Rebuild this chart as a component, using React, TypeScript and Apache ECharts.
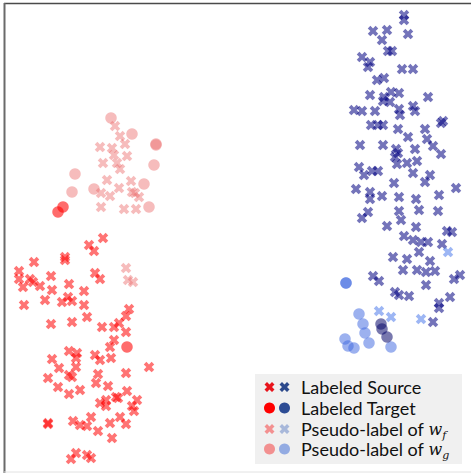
import React, { useEffect, useRef } from "react";
import * as echarts from "echarts";

// t-SNE embedding coordinates
const srcRed: number[][] = [
  [103,238],[89,245],[94,251],[65,257],[65,260],[34,262],[19,271],[19,279],[30,279],[33,282],[40,286],[51,276],[69,284],[23,287],[52,290],[84,291],[95,273],[100,279],[45,300],[62,302],[68,297],[72,301],[84,305],[24,305],[87,317],[72,322],[51,324],[102,327],[129,309],[126,316],[119,323],[114,327],[126,332],[114,340],[110,347],[52,359],[69,351],[77,353],[76,358],[95,355],[100,360],[111,358],[59,368],[149,367],[48,378],[69,375],[72,377],[76,367],[98,374],[126,373],[96,383],[58,387],[80,390],[69,394],[108,386],[127,391],[116,397],[118,398],[100,403],[106,400],[106,406],[137,400],[132,406],[134,411],[48,423],[48,424],[73,421],[80,425],[87,426],[91,417],[110,423],[120,417],[126,424],[98,431],[112,438],[76,453],[71,459],[87,455],[91,458]
];
const srcBlue: number[][] = [
  [404,15],[404,20],[373,31],[387,30],[382,40],[408,34],[388,51],[392,51],[362,57],[370,62],[368,67],[402,69],[413,69],[377,80],[384,78],[370,95],[384,97],[383,101],[390,102],[391,92],[399,93],[428,97],[354,110],[362,111],[375,111],[399,109],[400,115],[413,106],[415,111],[441,123],[443,121],[371,125],[378,125],[383,125],[398,129],[408,137],[425,129],[427,139],[433,146],[441,154],[360,145],[383,145],[396,149],[398,153],[395,157],[397,164],[415,149],[407,163],[417,161],[359,167],[364,175],[372,171],[378,171],[413,173],[430,175],[425,182],[394,183],[356,189],[370,192],[370,199],[382,196],[399,197],[416,199],[439,195],[456,188],[399,211],[419,210],[438,211],[368,212],[362,218],[401,220],[387,226],[416,227],[447,231],[452,232],[404,236],[413,240],[421,242],[428,242],[442,244],[419,252],[393,257],[407,259],[430,261],[403,270],[417,270],[426,272],[435,271],[460,275],[454,279],[373,276],[379,281],[426,285],[395,292],[399,295],[409,296],[450,297],[439,303],[439,308],[433,322]
];
const tgtRed: number[][] = [[63,207],[58,212],[127,347]];
const tgtBlue: number[][] = [[381,324],[382,329],[387,337]];
const wfRed: number[][] = [
  [115,126],[120,136],[125,144],[100,147],[112,148],[114,155],[127,156],[103,163],[117,163],[120,169],[107,180],[131,181],[119,188],[101,193],[110,196],[132,192],[135,193],[139,197],[101,207],[124,209],[136,209],[126,268],[128,280],[133,282]
];
const wfBlue: number[][] = [[448,252],[379,311],[391,317],[421,319]];
const wgRed: number[][] = [[111,118],[132,134],[156,144],[156,145],[154,165],[75,174],[72,192],[94,189],[144,184],[149,207]];
const wgBlue: number[][] = [[346,283],[346,283],[359,314],[363,324],[365,333],[369,343],[345,339],[348,346],[354,348],[391,347]];

const legendLabels = ["Labeled Source", "Labeled Target", "Pseudo-label of", "Pseudo-label of"];
const legendSubs = ["", "", "f", "g"];

const X_PATH = "path://M2.5,0 L5,2.5 L7.5,0 L10,2.5 L7.5,5 L10,7.5 L7.5,10 L5,7.5 L2.5,10 L0,7.5 L2.5,5 L0,2.5 Z";
const FONT = "Lato";
const FS = 18;

export default function App() {
  const ref = useRef<HTMLDivElement>(null);
  useEffect(() => {
    if (!ref.current) return;
    const chart = echarts.init(ref.current, undefined, { renderer: "svg" });
    const mk = (name: string, data: number[][], symbol: string, size: number, color: string, z: number) => ({
      name, type: "scatter", data, symbol, symbolSize: size, z,
      itemStyle: { color }, silent: true,
    });
    const lx = 301;
    const rowsY = [387, 408, 429, 449];
    const graphics: any[] = [
      { type: "line", shape: { x1: 4, y1: 3.5, x2: 471, y2: 3.5 }, style: { stroke: "#4a4a4a", lineWidth: 1.6 }, z: 10 },
      { type: "line", shape: { x1: 4.5, y1: 3, x2: 4.5, y2: 473 }, style: { stroke: "#6a6a6a", lineWidth: 2 }, z: 10 },
      { type: "line", shape: { x1: 4, y1: 472, x2: 471, y2: 472 }, style: { stroke: "#e2e2e2", lineWidth: 1 }, z: 10 },
      { type: "rect", shape: { x: 255, y: 374, width: 207, height: 90 }, style: { fill: "#f0f0f0" }, z: 20 },
    ];
    const legendSym = [
      ["x", "#e8141c", "#2d4a8c"],
      ["c", "#ff0000", "#2d4c94"],
      ["x", "#f39090", "#a8b8da"],
      ["c", "#f29090", "#93abe2"],
    ];
    rowsY.forEach((y, i) => {
      const [kind, cr, cb] = legendSym[i];
      [[269.5, cr], [284.5, cb]].forEach(([x, col]) => {
        if (kind === "x") {
          graphics.push({
            type: "polygon", z: 21,
            shape: { points: [[2.5,0],[5,2.5],[7.5,0],[10,2.5],[7.5,5],[10,7.5],[7.5,10],[5,7.5],[2.5,10],[0,7.5],[2.5,5],[0,2.5]].map(p => [(x as number) - 5 + p[0], y - 5 + p[1]]) },
            style: { fill: col as string },
          });
        } else {
          graphics.push({ type: "circle", z: 21, shape: { cx: x, cy: y, r: 5.5 }, style: { fill: col as string } });
        }
      });
      const sub = legendSubs[i];
      const text = sub ? `{n|${legendLabels[i]} }{w|w}{s|${sub}}` : `{n|${legendLabels[i]}}`;
      graphics.push({
        type: "text", z: 21, x: lx, y: y,
        style: {
          text, fill: "#111", verticalAlign: "middle", align: "left",
          rich: {
            n: { fontFamily: FONT, fontSize: FS, lineHeight: 24, verticalAlign: "middle", fill: "#111" },
            w: { fontFamily: "DejaVu Serif", fontStyle: "italic", fontSize: FS - 2, lineHeight: 24, verticalAlign: "middle", fill: "#111" },
            s: { fontFamily: "DejaVu Serif", fontStyle: "italic", fontSize: 11, lineHeight: 11, verticalAlign: "bottom", fill: "#111" },
          },
        },
      });
    });
    chart.setOption({
      animation: false,
      grid: { left: 0, right: 0, top: 0, bottom: 0 },
      xAxis: { type: "value", min: 0, max: 471, show: false },
      yAxis: { type: "value", min: 0, max: 473, inverse: true, show: false },
      series: [
        mk("Labeled Source (red)", srcRed, X_PATH, 10.5, "rgba(255,0,0,0.68)", 2),
        mk("Labeled Source (blue)", srcBlue, X_PATH, 10.5, "rgba(0,0,128,0.68)", 2),
        mk("Pseudo-label of wf (red)", wfRed, X_PATH, 10.5, "rgba(236,110,110,0.58)", 3),
        mk("Pseudo-label of wf (blue)", wfBlue, X_PATH, 10.5, "rgba(80,125,235,0.7)", 3),
        mk("Pseudo-label of wg (red)", wgRed, "circle", 11.5, "rgba(236,110,110,0.58)", 4),
        mk("Pseudo-label of wg (blue)", wgBlue, "circle", 11.5, "rgba(65,105,225,0.65)", 4),
        mk("Labeled Target (red)", tgtRed, "circle", 11.5, "rgba(255,0,0,0.72)", 5),
        mk("Labeled Target (blue)", tgtBlue, "circle", 11.5, "rgba(15,15,110,0.7)", 5),
      ],
      graphic: graphics,
    });
    return () => chart.dispose();
  }, []);
  return <div ref={ref} style={{ position: "fixed", left: 0, top: 0, width: 471, height: 473, background: "#fff" }} />;
}
